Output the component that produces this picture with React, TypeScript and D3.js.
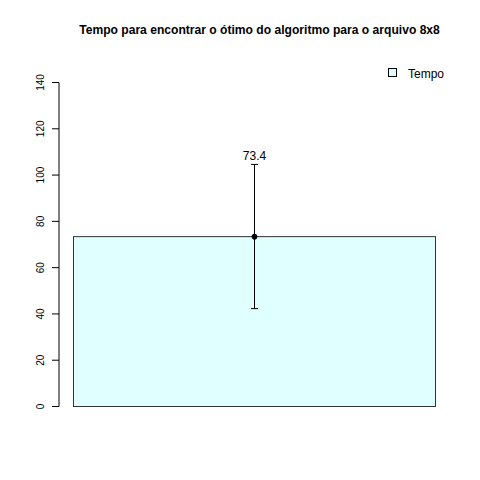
import React from 'react';
import * as d3 from 'd3';

// data
const categories = ['Tempo'];
const means = [73.4];
const lower = [42.3];
const upper = [104.6];
const yTicks = [0, 20, 40, 60, 80, 100, 120, 140];
const title = 'Tempo para encontrar o ótimo do algoritmo para o arquivo 8x8';

const W = 480;
const H = 480;
const font = 'Liberation Sans, Arial, Helvetica, sans-serif';

export default function App() {
  const y = d3.scaleLinear().domain([0, 140]).range([406.5, 82.5]);
  const x = d3.scaleBand().domain(categories).range([73.5, 435.5]).padding(0);
  const axisX = 59;

  return (
    <svg width={W} height={H} style={{ position: 'absolute', left: 0, top: 0, background: '#fff' }}>
      <text x={259.5} y={34} textAnchor="middle" fontFamily={font} fontWeight="bold" fontSize={12.1}>
        {title}
      </text>

      {/* y axis */}
      <line x1={axisX} x2={axisX} y1={y(0)} y2={y(140)} stroke="#000" />
      {yTicks.map((t) => (
        <g key={t}>
          <line x1={axisX} x2={axisX - 7} y1={y(t)} y2={y(t)} stroke="#000" />
          <text
            transform={`translate(${axisX - 15},${y(t)}) rotate(-90)`}
            textAnchor="middle"
            fontFamily={font}
            fontSize={10}
          >
            {t}
          </text>
        </g>
      ))}

      {/* bars with error bars */}
      {categories.map((c, i) => {
        const cx = Math.round((x(c) as number) + x.bandwidth() / 2) - 0.5;
        return (
          <g key={c}>
            <rect
              x={x(c)}
              y={y(means[i])}
              width={x.bandwidth()}
              height={y(0) - y(means[i])}
              fill="#E0FFFF"
              stroke="#333"
              strokeWidth={1}
            />
            <line x1={cx} x2={cx} y1={y(upper[i])} y2={y(lower[i])} stroke="#000" />
            <line x1={cx - 3.5} x2={cx + 3.5} y1={y(upper[i])} y2={y(upper[i])} stroke="#000" />
            <line x1={cx - 3.5} x2={cx + 3.5} y1={y(lower[i])} y2={y(lower[i])} stroke="#000" />
            <circle cx={cx} cy={y(means[i])} r={2.8} fill="#000" />
            <text x={cx} y={y(upper[i]) - 4} textAnchor="middle" fontFamily={font} fontSize={12}>
              {means[i]}
            </text>
          </g>
        );
      })}

      {/* legend */}
      <rect x={388.5} y={68.5} width={8} height={8} fill="#E0FFFF" stroke="#000" />
      <text x={408} y={78} fontFamily={font} fontSize={12}>
        {categories[0]}
      </text>
    </svg>
  );
}
